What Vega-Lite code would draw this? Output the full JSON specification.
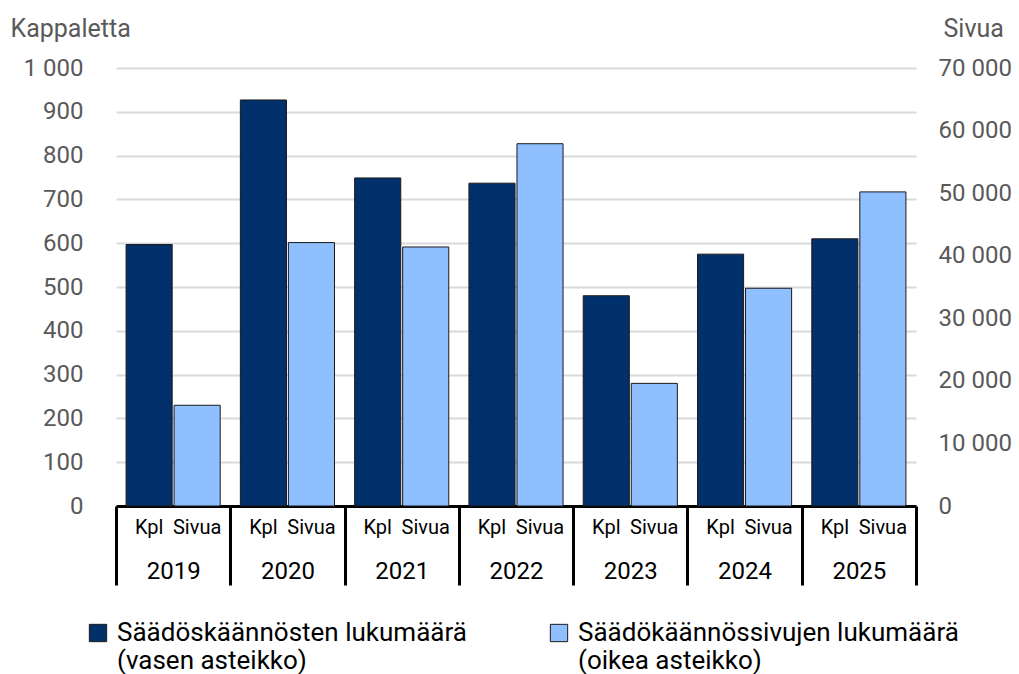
{
  "$schema": "https://vega.github.io/schema/vega-lite/v6.json",
  "width": 800,
  "height": 438,
  "autosize": "none",
  "padding": {"left": 116, "top": 68, "right": 103, "bottom": 168},
  "background": "white",
  "config": {"font": "Roboto", "view": {"stroke": null}},
  "data": {
    "values": [
      {"vuosi": "2019", "lyh": "Kpl", "sarja": "Säädöskäännösten lukumäärä (vasen asteikko)", "arvo": 597},
      {"vuosi": "2019", "lyh": "Sivua", "sarja": "Säädökäännössivujen lukumäärä (oikea asteikko)", "arvo": 16100},
      {"vuosi": "2020", "lyh": "Kpl", "sarja": "Säädöskäännösten lukumäärä (vasen asteikko)", "arvo": 927},
      {"vuosi": "2020", "lyh": "Sivua", "sarja": "Säädökäännössivujen lukumäärä (oikea asteikko)", "arvo": 42100},
      {"vuosi": "2021", "lyh": "Kpl", "sarja": "Säädöskäännösten lukumäärä (vasen asteikko)", "arvo": 749},
      {"vuosi": "2021", "lyh": "Sivua", "sarja": "Säädökäännössivujen lukumäärä (oikea asteikko)", "arvo": 41400},
      {"vuosi": "2022", "lyh": "Kpl", "sarja": "Säädöskäännösten lukumäärä (vasen asteikko)", "arvo": 737},
      {"vuosi": "2022", "lyh": "Sivua", "sarja": "Säädökäännössivujen lukumäärä (oikea asteikko)", "arvo": 57900},
      {"vuosi": "2023", "lyh": "Kpl", "sarja": "Säädöskäännösten lukumäärä (vasen asteikko)", "arvo": 480},
      {"vuosi": "2023", "lyh": "Sivua", "sarja": "Säädökäännössivujen lukumäärä (oikea asteikko)", "arvo": 19600},
      {"vuosi": "2024", "lyh": "Kpl", "sarja": "Säädöskäännösten lukumäärä (vasen asteikko)", "arvo": 575},
      {"vuosi": "2024", "lyh": "Sivua", "sarja": "Säädökäännössivujen lukumäärä (oikea asteikko)", "arvo": 34800},
      {"vuosi": "2025", "lyh": "Kpl", "sarja": "Säädöskäännösten lukumäärä (vasen asteikko)", "arvo": 610},
      {"vuosi": "2025", "lyh": "Sivua", "sarja": "Säädökäännössivujen lukumäärä (oikea asteikko)", "arvo": 50200}
    ]
  },
  "encoding": {
    "x": {
      "field": "vuosi",
      "type": "nominal",
      "scale": {"paddingInner": 0, "paddingOuter": 0},
      "axis": {
        "title": null,
        "labelAngle": 0,
        "domainColor": "#000000",
        "domainWidth": 3,
        "ticks": true,
        "tickBand": "extent",
        "tickSize": 79,
        "tickWidth": 3,
        "tickColor": "#000000",
        "labelPadding": -26,
        "labelFontSize": 24,
        "labelColor": "#000000",
        "grid": false
      }
    },
    "xOffset": {"field": "lyh", "type": "nominal", "sort": ["Kpl", "Sivua"], "scale": {"paddingInner": 0.04, "paddingOuter": 0.21}}
  },
  "layer": [
    {
      "transform": [{"filter": "datum.lyh == 'Kpl'"}],
      "mark": {"type": "bar", "stroke": "#1a1a1a", "strokeWidth": 1},
      "encoding": {
        "y": {
          "field": "arvo",
          "type": "quantitative",
          "scale": {"domain": [0, 1000]},
          "axis": {
            "title": "Kappaletta",
            "titleAngle": 0,
            "titleAlign": "left",
            "titleBaseline": "middle",
            "titleX": -106,
            "titleY": -40,
            "titleFontSize": 25,
            "titleFontWeight": "normal",
            "titleColor": "#595959",
            "values": [0, 100, 200, 300, 400, 500, 600, 700, 800, 900, 1000],
            "labelExpr": "replace(format(datum.value, ',d'), ',', ' ')",
            "labelFontSize": 24,
            "labelColor": "#595959",
            "labelPadding": 33,
            "ticks": false,
            "domain": false,
            "grid": true,
            "gridColor": "#d9d9d9",
            "gridWidth": 2
          }
        },
        "color": {
          "field": "sarja",
          "type": "nominal",
          "scale": {
            "domain": ["Säädöskäännösten lukumäärä (vasen asteikko)", "Säädökäännössivujen lukumäärä (oikea asteikko)"],
            "range": ["#02306b", "#8fbfff"]
          },
          "legend": {
            "orient": "none",
            "legendX": -31,
            "legendY": 552,
            "direction": "horizontal",
            "columns": 2,
            "title": null,
            "symbolType": "square",
            "symbolSize": 300,
            "symbolStrokeColor": "#000000",
            "symbolStrokeWidth": 1,
            "labelFontSize": 26,
            "labelColor": "#000000",
            "labelLimit": 700,
            "labelOffset": 6,
            "labelBaseline": "middle",
            "columnPadding": 79,
            "labelExpr": "datum.label == 'Säädöskäännösten lukumäärä (vasen asteikko)' ? ['Säädöskäännösten lukumäärä', '(vasen asteikko)'] : ['Säädökäännössivujen lukumäärä', '(oikea asteikko)']"
          }
        }
      }
    },
    {
      "transform": [{"filter": "datum.lyh == 'Sivua'"}],
      "mark": {"type": "bar", "stroke": "#1a1a1a", "strokeWidth": 1},
      "encoding": {
        "y": {
          "field": "arvo",
          "type": "quantitative",
          "scale": {"domain": [0, 70000]},
          "axis": {
            "orient": "right",
            "title": "Sivua",
            "titleAngle": 0,
            "titleAlign": "left",
            "titleBaseline": "middle",
            "titleX": 27,
            "titleY": -40,
            "titleFontSize": 25,
            "titleFontWeight": "normal",
            "titleColor": "#595959",
            "values": [0, 10000, 20000, 30000, 40000, 50000, 60000, 70000],
            "labelExpr": "replace(format(datum.value, ',d'), ',', ' ')",
            "labelFontSize": 24,
            "labelColor": "#595959",
            "labelPadding": 22,
            "ticks": false,
            "domain": false,
            "grid": false
          }
        },
        "color": {"field": "sarja", "type": "nominal"}
      }
    },
    {
      "mark": {"type": "text", "dy": 22, "fontSize": 20, "color": "#000000", "baseline": "middle"},
      "encoding": {
        "y": {"datum": 0, "type": "quantitative", "scale": {"domain": [0, 1000]}, "axis": null},
        "text": {"field": "lyh"}
      }
    }
  ],
  "resolve": {"scale": {"y": "independent"}}
}
